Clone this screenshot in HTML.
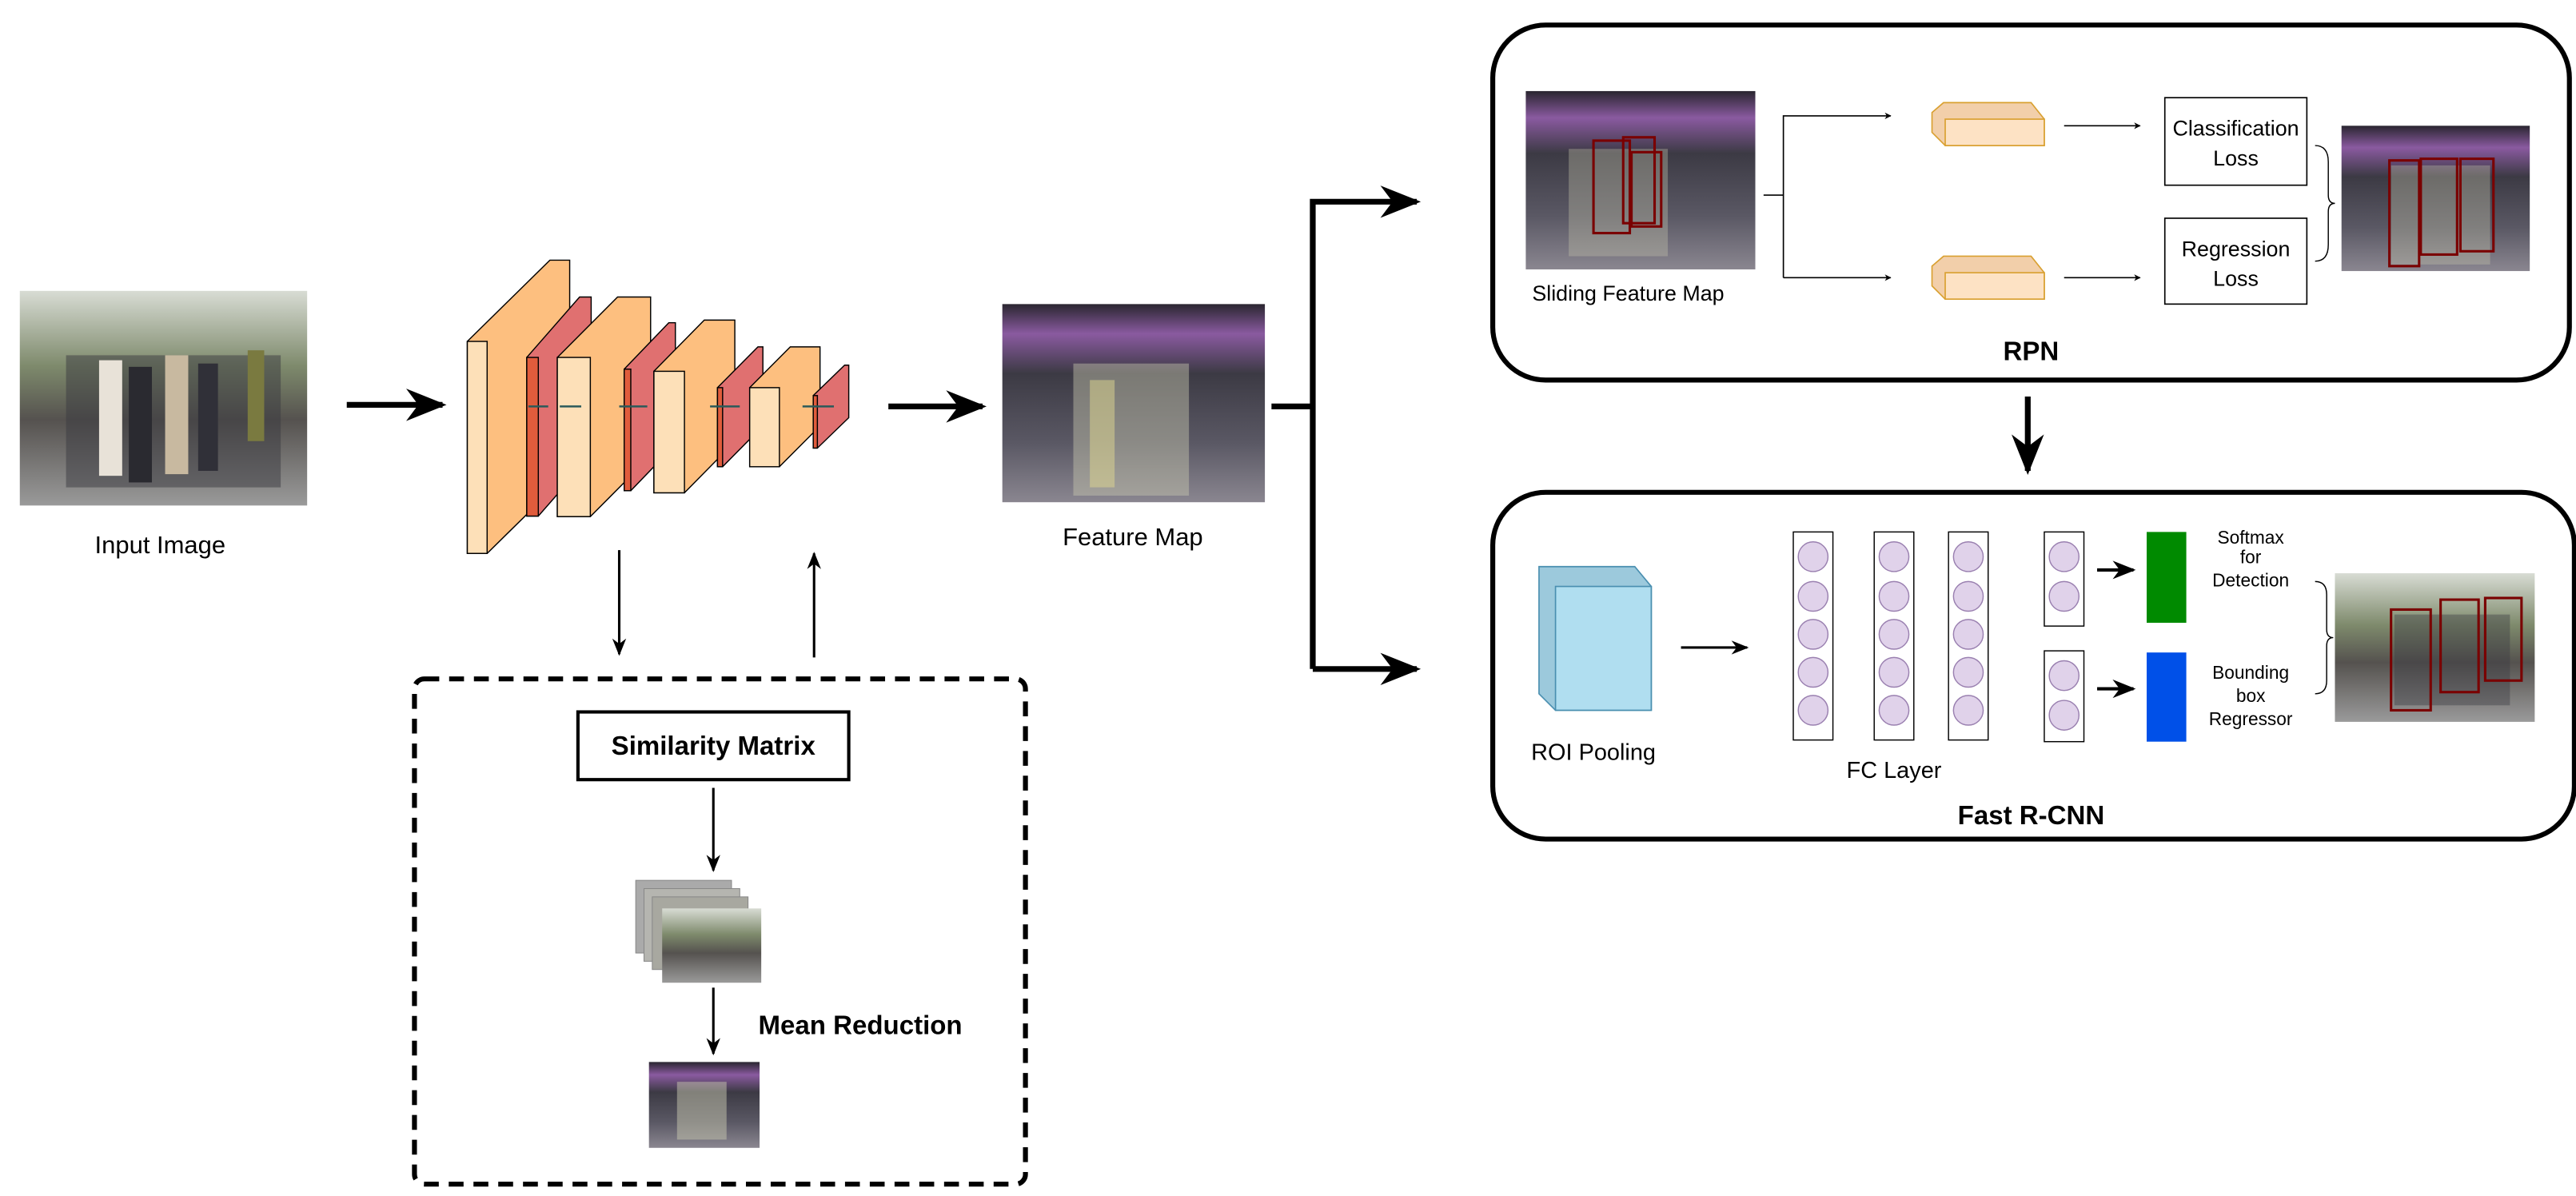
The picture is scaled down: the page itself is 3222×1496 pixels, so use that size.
<!DOCTYPE html>
<html><head><meta charset="utf-8"><style>
html,body{margin:0;padding:0;background:#fff;}
svg{display:block;}
text{font-family:"Liberation Sans",sans-serif;fill:#000;}
</style></head><body>
<svg width="3222" height="1496" viewBox="0 0 1560 724" xmlns="http://www.w3.org/2000/svg">
<defs>
<marker id="ah" viewBox="0 0 10 10" refX="9" refY="5" markerWidth="5" markerHeight="5" orient="auto-start-reverse"><path d="M0,0 L10,5 L0,10 L3,5 z" fill="#000"/></marker>
<marker id="as" viewBox="0 0 10 10" refX="9" refY="5" markerWidth="7" markerHeight="7" orient="auto"><path d="M0,1 L10,5 L0,9 L3,5 z" fill="#000"/></marker>
<linearGradient id="street" x1="0" y1="0" x2="0" y2="1"><stop offset="0" stop-color="#d8dcd4"/><stop offset="0.35" stop-color="#7e8a6c"/><stop offset="0.6" stop-color="#55524f"/><stop offset="1" stop-color="#9a9a9a"/></linearGradient>
<linearGradient id="feat" x1="0" y1="0" x2="0" y2="1"><stop offset="0" stop-color="#2a2630"/><stop offset="0.15" stop-color="#8a5aa0"/><stop offset="0.35" stop-color="#3c3a44"/><stop offset="0.7" stop-color="#5a5864"/><stop offset="1" stop-color="#8a8690"/></linearGradient>
</defs>

<!-- Input image -->
<rect x="12" y="176" width="174" height="130" fill="url(#street)"/>
<rect x="40" y="215" width="130" height="80" fill="#3a3a40" opacity="0.5"/>
<rect x="60" y="218" width="14" height="70" fill="#e8e2d8"/>
<rect x="78" y="222" width="14" height="70" fill="#2a2a30"/>
<rect x="100" y="215" width="14" height="72" fill="#c8b9a0"/>
<rect x="120" y="220" width="12" height="65" fill="#303038"/>
<rect x="150" y="212" width="10" height="55" fill="#7a7a40"/>
<text x="97" y="335" font-size="15" text-anchor="middle">Input Image</text>

<line x1="210" y1="245" x2="268" y2="245" stroke="#000" stroke-width="3.5" marker-end="url(#as)"/>

<!-- CNN layers -->
<g stroke="#000" stroke-width="0.7">
<polygon points="283,206.6 333,157.4 345,157.4 345,285.8 295,335 283,335" fill="#fdbf7f"/>
<rect x="283" y="206.6" width="12" height="128.4" fill="#fde0b8"/>
<polygon points="319,216.3 351,179.7 358,179.7 358,275.8 326,312.4 319,312.4" fill="#e07070"/>
<rect x="319" y="216.3" width="7" height="96.1" fill="#e05c3c"/>
<polygon points="337.5,216.3 374,179.7 394,179.7 394,276 357.5,312.7 337.5,312.7" fill="#fdbf7f"/>
<rect x="337.5" y="216.3" width="20" height="96.4" fill="#fde0b8"/>
<polygon points="378,223.4 405,195.3 409,195.3 409,269 382,297 378,297" fill="#e07070"/>
<rect x="378" y="223.4" width="4" height="73.6" fill="#e05c3c"/>
<polygon points="396,224.7 426.5,193.7 445,193.7 445,267.3 414.5,298.3 396,298.3" fill="#fdbf7f"/>
<rect x="396" y="224.7" width="18.5" height="73.6" fill="#fde0b8"/>
<polygon points="434.5,234.6 459,209.9 462,209.9 462,257.8 437.6,282.5 434.5,282.5" fill="#e07070"/>
<rect x="434.5" y="234.6" width="3.1" height="47.9" fill="#e05c3c"/>
<polygon points="454,234.6 478.6,209.9 496.6,209.9 496.6,257.8 472,282.5 454,282.5" fill="#fdbf7f"/>
<rect x="454" y="234.6" width="18" height="47.9" fill="#fde0b8"/>
<polygon points="492.5,239.4 511.5,221 514,221 514,252.8 495,271.2 492.5,271.2" fill="#e07070"/>
<rect x="492.5" y="239.4" width="2.5" height="31.8" fill="#e05c3c"/>
</g>
<g stroke="#2a5a5a" stroke-width="1.2">
<line x1="320" y1="246" x2="332" y2="246"/><line x1="339" y1="246" x2="352" y2="246"/>
<line x1="375" y1="246" x2="392" y2="246"/><line x1="430" y1="246" x2="448" y2="246"/><line x1="486" y1="246" x2="505" y2="246"/>
</g>

<!-- up/down arrows -->
<line x1="375" y1="333" x2="375" y2="396" stroke="#000" stroke-width="1.5" marker-end="url(#as)"/>
<line x1="493" y1="398" x2="493" y2="335" stroke="#000" stroke-width="1.5" marker-end="url(#as)"/>

<!-- dashed box -->
<rect x="251" y="411" width="370" height="306" rx="6" fill="none" stroke="#000" stroke-width="3" stroke-dasharray="9,6"/>
<rect x="350" y="431" width="164" height="41" fill="#fff" stroke="#000" stroke-width="2"/>
<text x="432" y="457" font-size="16" font-weight="bold" text-anchor="middle">Similarity Matrix</text>
<line x1="432" y1="477" x2="432" y2="527" stroke="#000" stroke-width="1.5" marker-end="url(#as)"/>
<g>
<rect x="385" y="533" width="58" height="44" fill="#aaa" stroke="#888" stroke-width="0.5"/>
<rect x="390" y="538" width="58" height="44" fill="#b5b5b0" stroke="#888" stroke-width="0.5"/>
<rect x="395" y="543" width="58" height="44" fill="#a8a8a0" stroke="#888" stroke-width="0.5"/>
<rect x="401" y="550" width="60" height="45" fill="url(#street)"/>
</g>
<line x1="432" y1="598" x2="432" y2="638" stroke="#000" stroke-width="1.5" marker-end="url(#as)"/>
<rect x="393" y="643" width="67" height="52" fill="url(#feat)"/>
<rect x="410" y="655" width="30" height="35" fill="#c8c8b0" opacity="0.5"/>
<text x="521" y="626" font-size="16" font-weight="bold" text-anchor="middle">Mean Reduction</text>

<line x1="538" y1="246" x2="595" y2="246" stroke="#000" stroke-width="3.5" marker-end="url(#as)"/>
<rect x="607" y="184" width="159" height="120" fill="url(#feat)"/>
<rect x="650" y="220" width="70" height="80" fill="#c8c8b0" opacity="0.45"/>
<rect x="660" y="230" width="15" height="65" fill="#e0d890" opacity="0.5"/>
<text x="686" y="330" font-size="15" text-anchor="middle">Feature Map</text>

<!-- split connector -->
<polyline points="770,246 795,246" fill="none" stroke="#000" stroke-width="3.5"/>
<polyline points="795,405 795,122 858,122" fill="none" stroke="#000" stroke-width="3.5" marker-end="url(#as)"/>
<line x1="795" y1="405" x2="858" y2="405" stroke="#000" stroke-width="3.5" marker-end="url(#as)"/>

<!-- RPN box -->
<rect x="904" y="15" width="652" height="215" rx="32" fill="none" stroke="#000" stroke-width="3"/>
<rect x="924" y="55" width="139" height="108" fill="url(#feat)"/>
<rect x="950" y="90" width="60" height="65" fill="#c8c8b0" opacity="0.35"/>
<g fill="none" stroke="#7a0000" stroke-width="1.5"><rect x="965" y="85" width="22" height="56"/><rect x="983" y="83" width="19" height="52"/><rect x="988" y="92" width="18" height="45"/></g>
<text x="986" y="182" font-size="13" text-anchor="middle">Sliding Feature Map</text>
<polyline points="1068,118 1080,118" fill="none" stroke="#000" stroke-width="0.8"/>
<polyline points="1080,168 1080,70 1145,70" fill="none" stroke="#000" stroke-width="0.8" marker-end="url(#ah)"/>
<line x1="1080" y1="168" x2="1145" y2="168" stroke="#000" stroke-width="0.8" marker-end="url(#ah)"/>
<g stroke="#d9a030" stroke-width="0.8">
<polygon points="1170,68 1177,62 1230,62 1238,72 1238,88 1178,88 1170,80" fill="#f2cfaa"/>
<rect x="1178" y="72" width="60" height="16" fill="#fde2c4"/>
<polygon points="1170,161 1177,155 1230,155 1238,165 1238,181 1178,181 1170,173" fill="#f2cfaa"/>
<rect x="1178" y="165" width="60" height="16" fill="#fde2c4"/>
</g>
<line x1="1250" y1="76" x2="1296" y2="76" stroke="#000" stroke-width="0.8" marker-end="url(#ah)"/>
<line x1="1250" y1="168" x2="1296" y2="168" stroke="#000" stroke-width="0.8" marker-end="url(#ah)"/>
<rect x="1311" y="59" width="86" height="53" fill="#fff" stroke="#000" stroke-width="0.8"/>
<text x="1354" y="82" font-size="13" text-anchor="middle">Classification</text>
<text x="1354" y="100" font-size="13" text-anchor="middle">Loss</text>
<rect x="1311" y="132" width="86" height="52" fill="#fff" stroke="#000" stroke-width="0.8"/>
<text x="1354" y="155" font-size="13" text-anchor="middle">Regression</text>
<text x="1354" y="173" font-size="13" text-anchor="middle">Loss</text>
<path d="M1402,88 Q1410,88 1410,98 L1410,118 Q1410,123 1414,123 Q1410,123 1410,128 L1410,148 Q1410,158 1402,158" fill="none" stroke="#000" stroke-width="0.7"/>
<rect x="1418" y="76" width="114" height="88" fill="url(#feat)"/>
<rect x="1448" y="100" width="60" height="60" fill="#c8c8b0" opacity="0.35"/>
<g fill="none" stroke="#7a0000" stroke-width="1.5"><rect x="1447" y="97" width="18" height="64"/><rect x="1466" y="96" width="22" height="58"/><rect x="1490" y="96" width="20" height="56"/></g>
<text x="1230" y="218" font-size="16" font-weight="bold" text-anchor="middle">RPN</text>

<line x1="1228" y1="240" x2="1228" y2="285" stroke="#000" stroke-width="3.5" marker-end="url(#as)"/>

<!-- Fast R-CNN box -->
<rect x="904" y="298" width="655" height="210" rx="32" fill="none" stroke="#000" stroke-width="3"/>
<g stroke="#4a8fb0" stroke-width="0.8">
<polygon points="932,343 990,343 1000,355 1000,430 942,430 932,420" fill="#9cc9dc"/>
<rect x="942" y="355" width="58" height="75" fill="#b0def0"/>
</g>
<text x="965" y="460" font-size="14" text-anchor="middle">ROI Pooling</text>
<line x1="1018" y1="392" x2="1058" y2="392" stroke="#000" stroke-width="1.5" marker-end="url(#as)"/>
<g fill="#fff" stroke="#000" stroke-width="0.7">
<rect x="1086" y="322" width="24" height="126"/><rect x="1135" y="322" width="24" height="126"/><rect x="1180" y="322" width="24" height="126"/>
<rect x="1238" y="322" width="24" height="57"/><rect x="1238" y="394" width="24" height="55"/>
</g>
<g fill="#e0d2ea" stroke="#9a80b0" stroke-width="0.7">
<ellipse cx="1098" cy="337" rx="9" ry="9"/><ellipse cx="1098" cy="361" rx="9" ry="9"/><ellipse cx="1098" cy="384" rx="9" ry="9"/><ellipse cx="1098" cy="407" rx="9" ry="9"/><ellipse cx="1098" cy="430" rx="9" ry="9"/>
<ellipse cx="1147" cy="337" rx="9" ry="9"/><ellipse cx="1147" cy="361" rx="9" ry="9"/><ellipse cx="1147" cy="384" rx="9" ry="9"/><ellipse cx="1147" cy="407" rx="9" ry="9"/><ellipse cx="1147" cy="430" rx="9" ry="9"/>
<ellipse cx="1192" cy="337" rx="9" ry="9"/><ellipse cx="1192" cy="361" rx="9" ry="9"/><ellipse cx="1192" cy="384" rx="9" ry="9"/><ellipse cx="1192" cy="407" rx="9" ry="9"/><ellipse cx="1192" cy="430" rx="9" ry="9"/>
<ellipse cx="1250" cy="337" rx="9" ry="9"/><ellipse cx="1250" cy="361" rx="9" ry="9"/>
<ellipse cx="1250" cy="409" rx="9" ry="9"/><ellipse cx="1250" cy="433" rx="9" ry="9"/>
</g>
<text x="1147" y="471" font-size="14" text-anchor="middle">FC Layer</text>
<line x1="1270" y1="345" x2="1292" y2="345" stroke="#000" stroke-width="2" marker-end="url(#as)"/>
<line x1="1270" y1="417" x2="1292" y2="417" stroke="#000" stroke-width="2" marker-end="url(#as)"/>
<rect x="1300" y="322" width="24" height="55" fill="#008a00"/>
<rect x="1300" y="395" width="24" height="54" fill="#0050e8"/>
<g font-size="11" text-anchor="middle">
<text x="1363" y="329">Softmax</text><text x="1363" y="341">for</text><text x="1363" y="355">Detection</text>
<text x="1363" y="411">Bounding</text><text x="1363" y="425">box</text><text x="1363" y="439">Regressor</text>
</g>
<path d="M1402,352 Q1409,352 1409,360 L1409,381 Q1409,386 1413,386 Q1409,386 1409,391 L1409,412 Q1409,420 1402,420" fill="none" stroke="#000" stroke-width="0.7"/>
<rect x="1414" y="347" width="121" height="90" fill="url(#street)"/>
<rect x="1450" y="372" width="70" height="55" fill="#3a3a40" opacity="0.4"/>
<g fill="none" stroke="#7a0000" stroke-width="1.5"><rect x="1448" y="369" width="24" height="61"/><rect x="1478" y="363" width="23" height="56"/><rect x="1505" y="362" width="22" height="50"/></g>
<text x="1230" y="499" font-size="16" font-weight="bold" text-anchor="middle">Fast R-CNN</text>
</svg>
</body></html>
